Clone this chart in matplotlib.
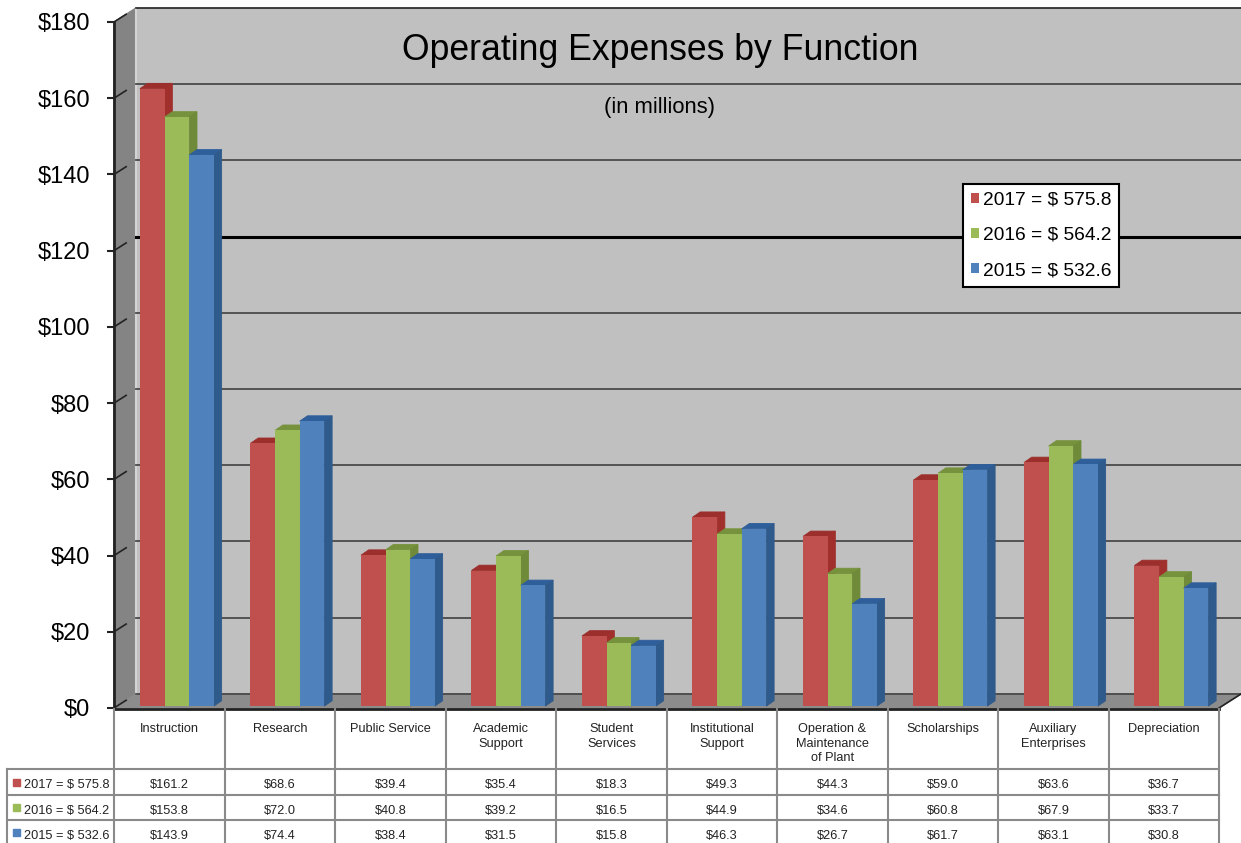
import matplotlib
matplotlib.use("Agg")
import matplotlib.pyplot as plt
from matplotlib.lines import Line2D
from matplotlib.patches import Rectangle

categories = ["Instruction", "Research", "Public Service", "Academic\nSupport", "Student\nServices",
              "Institutional\nSupport", "Operation &\nMaintenance\nof Plant", "Scholarships",
              "Auxiliary\nEnterprises", "Depreciation"]
labels = ["2017 = $ 575.8", "2016 = $ 564.2", "2015 = $ 532.6"]
vals_2017 = [161.2, 68.6, 39.4, 35.4, 18.3, 49.3, 44.3, 59.0, 63.6, 36.7]
vals_2016 = [153.8, 72.0, 40.8, 39.2, 16.5, 44.9, 34.6, 60.8, 67.9, 33.7]
vals_2015 = [143.9, 74.4, 38.4, 31.5, 15.8, 46.3, 26.7, 61.7, 63.1, 30.8]
series = [vals_2017, vals_2016, vals_2015]
front = ["#c0504d", "#9bbb59", "#4f81bd"]
top = ["#9c2f2c", "#76923c", "#2f5f9a"]
side = ["#a12f2c", "#6f8a38", "#2f5a8c"]

W, H = 1241, 843
plt.rcParams["font.family"] = ["Liberation Sans"]


def fy(y):
    return 1 - y / H


fig = plt.figure(figsize=(W / 100, H / 100), dpi=100, facecolor="white")
ax = fig.add_axes([114 / W, fy(708), 1105 / W, 686 / H])
ax.set_xlim(0, 10)
ax.set_ylim(0, 180)
ax.patch.set_visible(False)
for s in ax.spines.values():
    s.set_visible(False)

# 3d box: walls pushed back by a fixed depth
dx, dy = 0.2, 3.7
ax.fill([0, dx, dx, 0], [0, dy, 180 + dy, 180], color="#848484", clip_on=False, zorder=1)
ax.fill([dx, 10 + dx, 10 + dx, dx], [dy, dy, 180 + dy, 180 + dy], color="#c0c0c0", clip_on=False, zorder=1)
ax.fill([0, 10, 10 + dx, dx], [0, 0, dy, dy], color="#8c8c8c", clip_on=False, zorder=2)
ax.plot([dx, dx], [dy, 180 + dy], color="#d4d4d4", lw=1.5, clip_on=False, zorder=2)

for v in range(0, 181, 20):
    lw, col = (2.2, "black") if v == 120 else (1.3, "#4a4a4a")
    if v == 180:
        lw, col = 1.2, "#222222"
    ax.plot([dx, 10 + dx], [v + dy, v + dy], color=col, lw=lw, clip_on=False, zorder=2)
    ax.plot([0, dx * 0.55], [v, v + dy * 0.55], color="#222222", lw=1.2, clip_on=False, zorder=2)
ax.plot([10, 10 + dx], [0, dy], color="#222222", lw=1.2, clip_on=False, zorder=3)

# bars, front face plus top and side faces
bar_w = 0.223
depth_x, depth_y = 0.07, 1.4
base = 0.5
for i, vals in enumerate(series):
    for j, v in enumerate(vals):
        x0 = j + 0.235 + i * bar_w
        h = v * 1.005
        x1 = x0 + bar_w
        ax.fill([x0, x1, x1 + depth_x, x0 + depth_x], [base + h, base + h, base + h + depth_y, base + h + depth_y],
                color=top[i], lw=0.6, zorder=3 + i)
        ax.fill([x1, x1 + depth_x, x1 + depth_x, x1], [base, base + depth_y, base + h + depth_y, base + h],
                color=side[i], lw=0.6, zorder=3 + i)
    ax.bar([j + 0.235 + i * bar_w for j in range(10)], [v * 1.005 for v in vals], width=bar_w, bottom=base,
           align="edge", color=front[i], label=labels[i], zorder=3 + i)

ax.set_yticks(range(0, 181, 20))
ax.set_yticklabels([f"${v}" for v in range(0, 181, 20)], fontsize=17, color="black")
ax.set_xticks([])
ax.tick_params(axis="y", length=5, width=1.5, color="#222222", pad=12)
ax.plot([0, 0], [0, 180], color="#222222", lw=2, clip_on=False, zorder=6)

fig.text(660 / W, fy(50), "Operating Expenses by Function", fontsize=25.7, ha="center", va="center")
fig.text(659 / W, fy(107), "(in millions)", fontsize=15.8, ha="center", va="center")

leg = ax.legend(loc="upper left", bbox_to_anchor=((963 - 114) / 1105, (708 - 184) / 686), fontsize=13.8,
                frameon=True, fancybox=False, framealpha=1, edgecolor="black", handlelength=0.42,
                handleheight=0.42, handletextpad=0.2, labelspacing=0.95, borderpad=0.4, borderaxespad=0)
leg.get_frame().set_linewidth(1.5)
leg.set_zorder(20)

# data table below the chart
grid = "#8a8a8a"
col_x = [114 + 110.5 * k for k in range(11)]
rows_y = [769, 795, 820]
fig.add_artist(Line2D([114 / W, 1219 / W], [fy(709), fy(709)], color="#222222", lw=2))
for y in rows_y:
    fig.add_artist(Line2D([7 / W, 1219 / W], [fy(y), fy(y)], color=grid, lw=1.5))
for x in col_x:
    fig.add_artist(Line2D([x / W, x / W], [fy(709), 0], color=grid, lw=1.5))
fig.add_artist(Line2D([7 / W, 7 / W], [fy(769), 0], color=grid, lw=1.5))

for j, name in enumerate(categories):
    fig.text((col_x[j] + 55.5) / W, fy(723), name, fontsize=9.2, ha="center", va="top", linespacing=1.3,
             color="#222222")
centers = [785, 811, 836]
swatch_y = [786, 811, 836]
for i, vals in enumerate(series):
    fig.add_artist(Rectangle((13 / W, fy(swatch_y[i])), 7 / W, 7 / H, transform=fig.transFigure, color=front[i]))
    fig.text(24 / W, fy(centers[i]), labels[i], fontsize=9.2, va="center", color="#222222")
    for j, v in enumerate(vals):
        fig.text((col_x[j] + 55.5) / W, fy(centers[i]), f"${v:.1f}", fontsize=9.2, ha="center", va="center",
                 color="#222222")

fig.savefig("out.png", dpi=100)
